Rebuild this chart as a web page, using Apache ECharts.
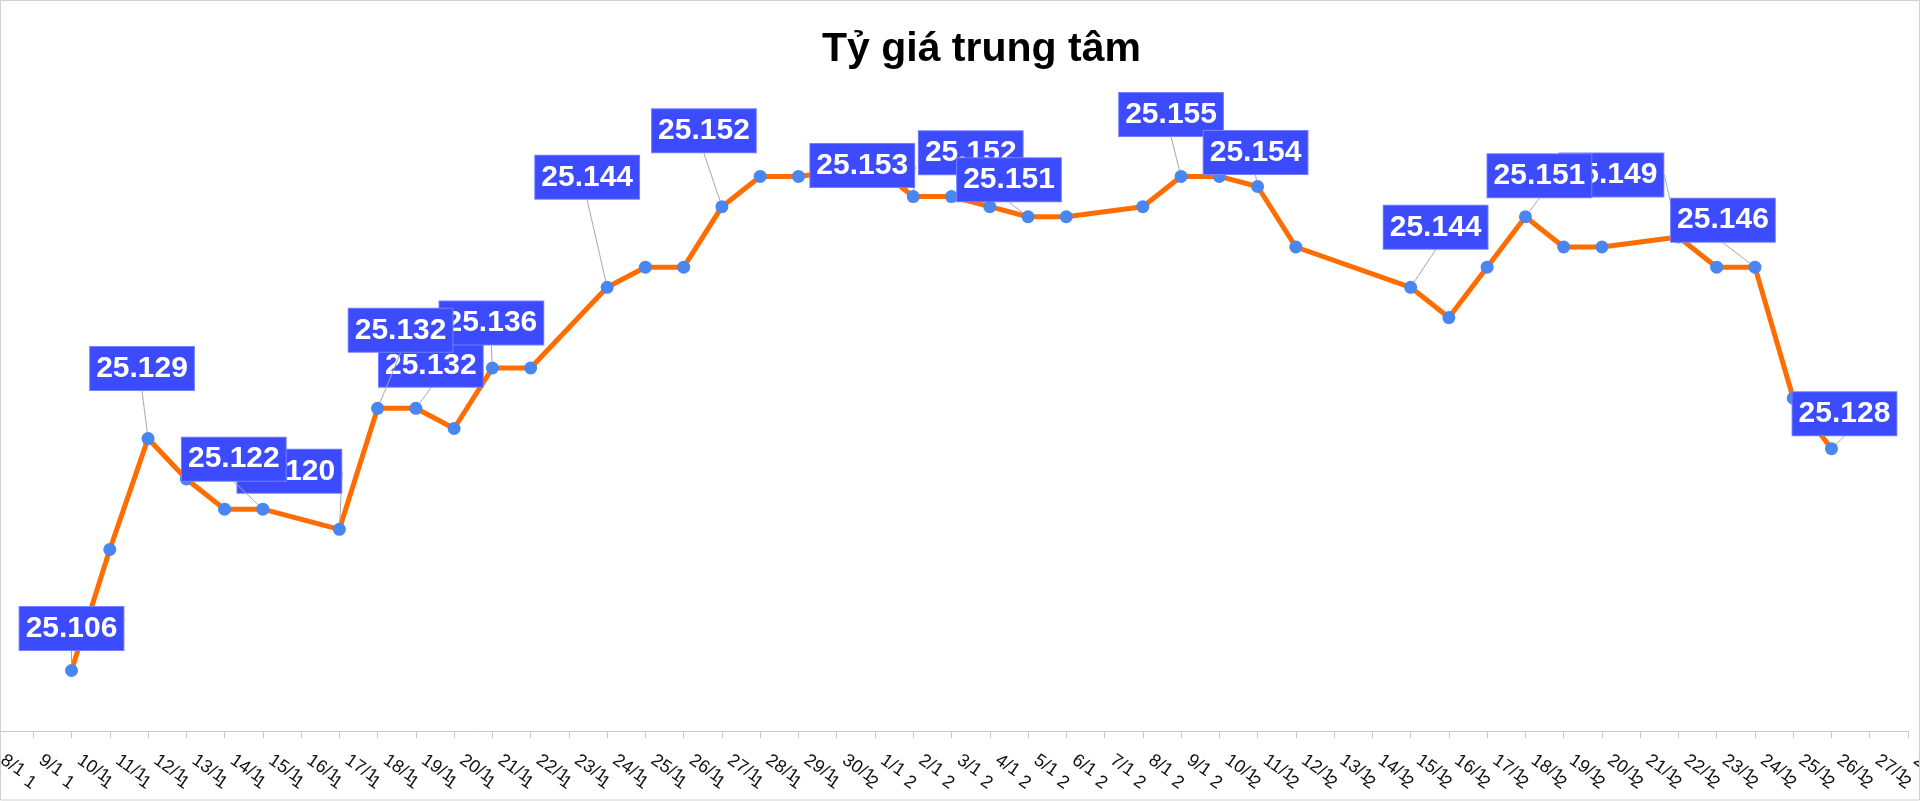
<!DOCTYPE html>
<html>
<head>
<meta charset="utf-8">
<script src="https://cdn.jsdelivr.net/npm/echarts@6/dist/echarts.min.js"></script>
<style>
html,body{margin:0;padding:0;background:#fff;}
#chart{width:1920px;height:801px;}
</style>
</head>
<body>
<div id="chart"></div>
<script>
// ---- data ----
const titleText = 'Tỷ giá trung tâm';
const dates = ['8/11','9/11','10/11','11/11','12/11','13/11','14/11','15/11','16/11','17/11','18/11','19/11','20/11','21/11','22/11','23/11','24/11','25/11','26/11','27/11','28/11','29/11','30/11',
  '1/12','2/12','3/12','4/12','5/12','6/12','7/12','8/12','9/12','10/12','11/12','12/12','13/12','14/12','15/12','16/12','17/12','18/12','19/12','20/12','21/12','22/12','23/12','24/12','25/12','26/12','27/12','28/12'];
const rates = [null,null,25106,25118,25129,25125,25122,25122,null,25120,25132,25132,25130,25136,25136,null,25144,25146,25146,25152,25155,25155,null,
  25156,25153,25153,25152,25151,25151,null,25152,25155,25155,25154,25148,null,null,25144,25141,25146,25151,25148,25148,null,25149,25146,25146,25133,25128,null,null];
const labeledDates = ['10/11','12/11','15/11','17/11','18/11','19/11','21/11','24/11','27/11','2/12','4/12','5/12','9/12','11/12','15/12','18/12','22/12','24/12','26/12'];

// ---- label placement (offset of label centre from its point, px) and stacking ----
const labelOffsets = {
  '10/11':[0,-42], '12/11':[-6,-70], '15/11':[-29,-50], '17/11':[-50,-58], '18/11':[23,-78],
  '19/11':[15,-43], '21/11':[-1,-45], '24/11':[-20,-110], '27/11':[-18,-76], '2/12':[-51,-31],
  '4/12':[-19,-54], '5/12':[-19,-37], '9/12':[-10,-62], '11/12':[-2,-34], '15/12':[25,-60],
  '18/12':[14,-41], '22/12':[-67,-62], '24/12':[-32,-47], '26/12':[13,-35]
};
const labelsOnTop = ['15/11','18/11','18/12'];

const labeledSet = new Set(labeledDates);
const seriesData = rates.map((v, i) => ({
  value: v === null ? '-' : v,
  label: { show: labeledSet.has(dates[i]) },
  labelLine: { show: labeledSet.has(dates[i]) }
}));

const chart = echarts.init(document.getElementById('chart'), null, {renderer: 'canvas'});
chart.setOption({
  animation: false,
  backgroundColor: '#fff',
  title: {
    text: titleText,
    left: 822,
    top: 29,
    padding: 0,
    textStyle: { fontFamily: 'Liberation Sans', fontWeight: 'bold', fontSize: 41, color: '#000' }
  },
  graphic: [{
    type: 'rect', silent: true, z: 100,
    shape: { x: 0.5, y: 0.5, width: 1919, height: 799.5 },
    style: { fill: 'none', stroke: '#d0d0d0', lineWidth: 1 }
  }],
  grid: { left: -5, right: 12, top: 126, bottom: 70, containLabel: false, outerBoundsMode: 'none' },
  xAxis: {
    type: 'category',
    data: dates,
    boundaryGap: false,
    axisLine: { lineStyle: { color: '#c8c8c8', width: 1 } },
    axisTick: { show: true, interval: 0, length: 7, lineStyle: { color: '#c8c8c8' } },
    axisLabel: {
      interval: 0, rotate: -35, margin: 38,
      formatter: v => v.slice(0, -1) + '\n' + v.slice(-1),
      lineHeight: 26,
      fontFamily: 'Liberation Sans', fontSize: 18, color: '#111'
    },
    splitLine: { show: false }
  },
  yAxis: {
    type: 'value', min: 25100, max: 25160, show: false, splitLine: { show: false }
  },
  series: [{
    type: 'line',
    data: seriesData,
    connectNulls: true,
    symbol: 'circle',
    symbolSize: 13,
    itemStyle: { color: '#4a86f0' },
    lineStyle: { color: '#ff6d00', width: 5 },
    label: {
      show: false,
      formatter: p => (p.value / 1000).toFixed(3),
      fontFamily: 'Liberation Sans', fontWeight: 'bold', fontSize: 30,
      color: '#fff', backgroundColor: '#3b4bfd',
      borderColor: '#7480ff', borderWidth: 1,
      padding: [5, 6, 5, 6], lineHeight: 33
    },
    labelLine: { show: false, lineStyle: { color: '#a8a8a8', width: 1 } },
    labelLayout: function (params) {
      const o = labelOffsets[dates[params.dataIndex]];
      if (!o) return {};
      const cx = params.rect.x + params.rect.width / 2;
      const cy = params.rect.y + params.rect.height / 2;
      return { x: cx + o[0], y: cy + o[1], align: 'center', verticalAlign: 'middle' };
    }
  }]
});

// raise a few labels above their overlapping neighbours
try {
  const sData = chart.getModel().getSeriesByIndex(0).getData();
  labelsOnTop.forEach(d => {
    const g = sData.getItemGraphicEl(dates.indexOf(d));
    if (!g) return;
    g.traverse(el => {
      const t = el.getTextContent && el.getTextContent();
      if (t) { el.z2 = (el.z2 || 0) + 50; t.z2 = (t.z2 || 0) + 50; t.dirty && t.dirty(); }
      const gl = el.getTextGuideLine && el.getTextGuideLine();
      if (gl) { gl.z2 = (gl.z2 || 0) + 50; }
    });
  });
  chart.getZr().refreshImmediately();
} catch (e) {}
</script>
</body>
</html>
